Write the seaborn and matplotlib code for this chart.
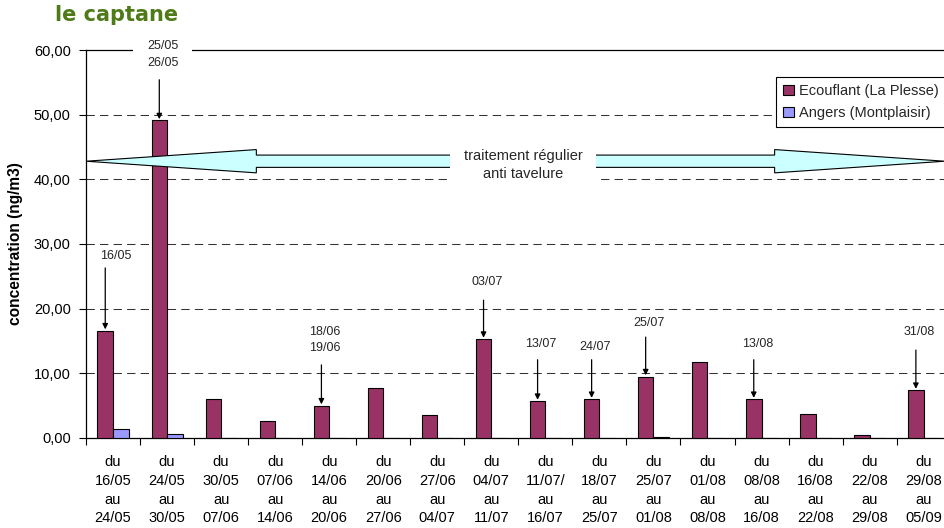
import matplotlib
matplotlib.use("Agg")
import matplotlib.pyplot as plt
import pandas as pd
import seaborn as sns
from matplotlib.patches import Polygon
from matplotlib.transforms import blended_transform_factory

# Sampling periods (start / end of each weekly sample)
period_start = ["16/05", "24/05", "30/05", "07/06", "14/06", "20/06", "27/06", "04/07",
                "11/07/", "18/07", "25/07", "01/08", "08/08", "16/08", "22/08", "29/08"]
period_end = ["24/05", "30/05", "07/06", "14/06", "20/06", "27/06", "04/07", "11/07",
              "16/07", "25/07", "01/08", "08/08", "16/08", "22/08", "29/08", "05/09"]

# Captan concentrations (ng/m3)
site_names = ["Ecouflant (La Plesse)", "Angers (Montplaisir)"]
ecouflant = [16.6, 49.1, 6.0, 2.6, 5.0, 7.7, 3.5, 15.3, 5.7, 6.0, 9.5, 11.7, 6.0, 3.7, 0.5, 7.4]
angers = [1.45, 0.57, 0.0, 0.0, 0.0, 0.0, 0.0, 0.0, 0.0, 0.0, 0.1, 0.0, 0.0, 0.0, 0.0, 0.0]

# Treatment dates, attached to the period in which they fall
treat_period = [0, 1, 4, 7, 8, 9, 10, 12, 15]
treat_dates = ["16/05", "25/05\n26/05", "18/06\n19/06", "03/07", "13/07", "24/07",
               "25/07", "13/08", "31/08"]

y_ticks = [0, 10, 20, 30, 40, 50, 60]
band_text = "traitement régulier\nanti tavelure"

# Layout for the treatment call-outs: label position and arrow start (data units)
label_dx = [0.2, 0.065, 0.065, 0.065, 0.065, 0.065, 0.065, 0.065, 0.065]
label_y = [28.1, 59.3, 15.15, 24.1, 14.5, 14.1, 17.8, 14.5, 16.4]
arrow_top = [26.3, 55.4, 11.3, 21.3, 12.1, 12.1, 15.6, 12.1, 13.6]

colors = ["#993366", "#9999FF"]

sns.set_theme(style="white")
plt.rcParams["font.family"] = ["Liberation Sans", "DejaVu Sans"]

categories = [f"du\n{a}\nau\n{b}" for a, b in zip(period_start, period_end)]
df = pd.DataFrame({
    "period": categories * 2,
    "site": [site_names[0]] * len(categories) + [site_names[1]] * len(categories),
    "value": ecouflant + angers,
})

fig = plt.figure(figsize=(9.45, 5.28), dpi=100)
ax = fig.add_axes([0.0910, 0.1705, 0.9150, 0.7348])

bar_width = 0.575
sns.barplot(data=df, x="period", y="value", hue="site", order=categories,
            hue_order=site_names, palette=colors, saturation=1, width=bar_width,
            gap=0, edgecolor="black", linewidth=0.8, errorbar=None, ax=ax, zorder=3)

ax.set_xlim(-0.5, len(categories) - 0.5)
ax.set_ylim(0, 60)
ax.set_yticks(y_ticks)
ax.set_yticklabels([f"{v:.2f}".replace(".", ",") for v in y_ticks], fontsize=10.5)
ax.set_xticks(range(len(categories)))
ax.set_xticklabels(categories, fontsize=10.5, linespacing=1.42)
ax.set_xticks([i - 0.5 for i in range(len(categories) + 1)], minor=True)
ax.tick_params(axis="x", which="major", length=0, pad=12.5, colors="black")
ax.tick_params(axis="x", which="minor", length=5, width=0.8, direction="out",
               bottom=True, color="black")
ax.tick_params(axis="y", length=5, width=0.8, direction="out", left=True, pad=6,
               colors="black")
ax.set_xlabel("")
ax.set_ylabel("concentration (ng/m3)", fontsize=11.2, fontweight="bold", color="black")
ax.yaxis.set_label_coords(-0.0725, 0.5)

for name, sp in ax.spines.items():
    sp.set_color("black")
    sp.set_linewidth(0.9)
ax.spines["right"].set_visible(False)

for v in y_ticks[1:-1]:
    ax.axhline(v, color="#333333", lw=0.75, ls=(0, (8, 5)), zorder=1)

# Legend
handles, labels = ax.get_legend_handles_labels()
leg = ax.legend(handles, labels, loc="upper left", bbox_to_anchor=(0.798, 0.93),
                fontsize=10.5, frameon=True, fancybox=False, framealpha=1,
                edgecolor="black", handlelength=0.7, handleheight=0.7,
                handletextpad=0.35, borderpad=0.5, labelspacing=0.5,
                borderaxespad=0)
leg.get_frame().set_linewidth(0.8)
leg.set_zorder(6)

# Double-headed band: regular scab treatment over the whole season
trans = blended_transform_factory(ax.transAxes, ax.transData)
yc, head_h, shaft_h = 42.8, 1.8, 0.95
x0, x1, head_l = 0.0, 0.9934, 0.197
band = Polygon([
    (x0, yc), (x0 + head_l, yc + head_h), (x0 + head_l, yc + shaft_h),
    (x1 - head_l, yc + shaft_h), (x1 - head_l, yc + head_h), (x1, yc),
    (x1 - head_l, yc - head_h), (x1 - head_l, yc - shaft_h),
    (x0 + head_l, yc - shaft_h), (x0 + head_l, yc - head_h)],
    closed=True, facecolor="#CCFFFF", edgecolor="black", lw=0.8,
    transform=trans, zorder=4, clip_on=False)
ax.add_patch(band)
ax.text(7.585, 42.2, band_text, ha="center", va="center", fontsize=10.5,
        linespacing=1.35, zorder=5,
        bbox=dict(facecolor="white", edgecolor="none", pad=10))

# Treatment call-outs with arrows pointing to the Ecouflant bars
offset = bar_width / 4
for k, (i, txt) in enumerate(zip(treat_period, treat_dates)):
    xb = i - offset
    box = dict(facecolor="white", edgecolor="none", pad=10) if i == 1 else None
    ax.text(xb + label_dx[k], label_y[k], txt, ha="center", va="center", fontsize=9,
            linespacing=1.5, zorder=5, bbox=box, clip_on=False)
    ax.annotate("", xy=(xb, ecouflant[i] + 0.2), xytext=(xb, arrow_top[k]),
                arrowprops=dict(arrowstyle="-|>", color="black", lw=0.9,
                                mutation_scale=8, shrinkA=0, shrinkB=0),
                zorder=7, annotation_clip=False)

fig.text(55 / 945, 1 - 5 / 528, "le captane", ha="left", va="top",
         fontsize=15, fontweight="bold", color="#4E7A17", family="DejaVu Sans")

fig.savefig("out.png", dpi=100)
